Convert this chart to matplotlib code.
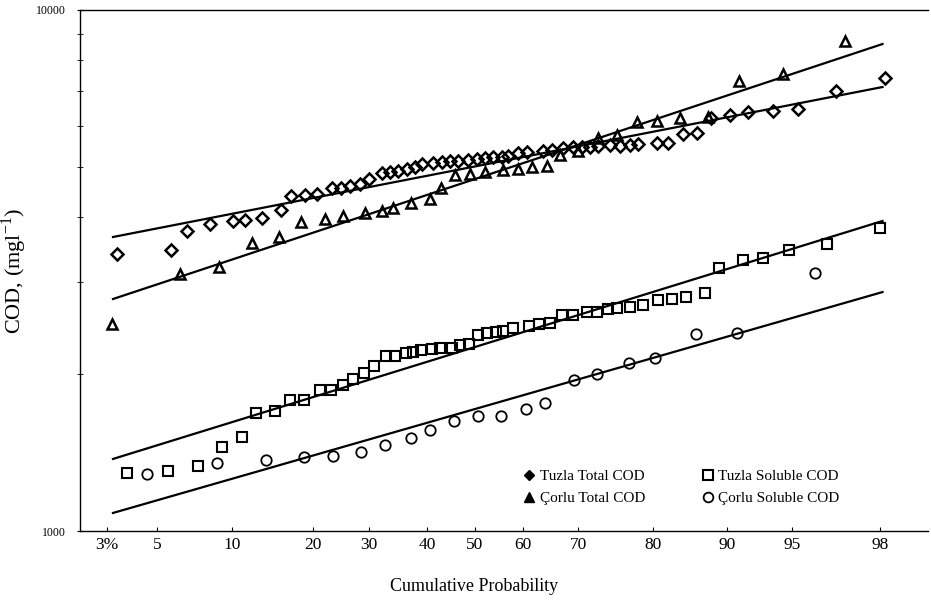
import numpy as np
import matplotlib
matplotlib.use("Agg")
import matplotlib.pyplot as plt
from matplotlib.lines import Line2D

plt.rcParams['font.family'] = ['Liberation Serif', 'DejaVu Serif']

# probability paper: tick percentages and where they sit on the printed axis (pixels)
prob_ticks = [3, 5, 10, 20, 30, 40, 50, 60, 70, 80, 90, 95, 98]
prob_labels = ['3%', '5', '10', '20', '30', '40', '50', '60', '70', '80', '90', '95', '98']
paper_p = [0.5, 2, 3, 5, 10, 20, 30, 40, 50, 60, 70, 80, 90, 95, 98, 99, 99.9]
paper_px = [0, 78, 107, 157, 232, 313, 369, 427, 475, 523, 578, 653, 727, 792, 880, 930, 1000]

# Tuzla total COD
tt_p = [3.4, 5.9, 7.0, 8.5, 10.1, 11.6, 13.7, 16.1, 17.3, 19.0, 20.7, 23.4, 25.0, 26.6,
        28.4, 30.0, 32.2, 33.6, 35.0, 36.6, 37.9, 39.1, 41.2, 43.1, 44.8, 46.5, 48.5,
        50.4, 52.1, 53.7, 55.6, 56.9, 59.0, 60.7, 63.6, 65.3, 67.3, 69.1, 70.5, 71.6,
        72.7, 74.3, 75.6, 76.9, 78.0, 80.5, 82.0, 84.1, 85.9, 87.8, 90.2, 91.6, 93.5,
        95.2, 96.5, 98.1]
tt_cod = [3400, 3460, 3765, 3885, 3936, 3953, 3989, 4133, 4395, 4414, 4434, 4553, 4553,
          4594, 4634, 4738, 4866, 4888, 4909, 4952, 4996, 5062, 5084, 5107, 5130, 5130,
          5152, 5175, 5198, 5222, 5222, 5245, 5314, 5338, 5362, 5386, 5433, 5457, 5457,
          5457, 5482, 5506, 5482, 5506, 5530, 5554, 5554, 5781, 5806, 6203, 6287, 6370,
          6399, 6456, 6990, 7404]

# Corlu total COD
ct_p = [3.2, 6.5, 9.1, 12.5, 15.8, 18.5, 22.1, 25.4, 29.3, 32.2, 34.1, 37.2, 40.6, 42.9,
        45.8, 49.0, 52.1, 55.8, 59.0, 61.6, 64.4, 66.7, 70.0, 72.7, 75.2, 77.9, 80.5,
        83.6, 87.4, 90.9, 94.3, 96.8]
ct_cod = [2496, 3113, 3211, 3571, 3667, 3918, 3971, 4024, 4078, 4114, 4169, 4262, 4338,
          4553, 4824, 4845, 4888, 4931, 4952, 4996, 5018, 5268, 5362, 5679, 5755, 6095,
          6122, 6203, 6231, 7306, 7537, 8720]

# Tuzla soluble COD
ts_p = [3.8, 5.7, 7.7, 9.3, 11.2, 13.0, 15.3, 17.2, 18.9, 21.3, 23.2, 25.4, 27.1, 29.1,
        30.9, 32.9, 34.5, 36.4, 37.6, 39.0, 41.0, 42.7, 45.2, 46.9, 48.7, 50.6, 52.5,
        54.4, 55.8, 57.9, 61.1, 62.9, 64.9, 67.1, 69.1, 71.2, 72.5, 74.0, 75.2, 76.9,
        78.7, 80.7, 82.6, 84.5, 87.0, 88.9, 91.2, 92.8, 94.8, 96.2, 98.0]
ts_cod = [1292, 1304, 1333, 1449, 1515, 1685, 1700, 1784, 1784, 1865, 1865, 1906, 1957,
          2010, 2073, 2167, 2167, 2196, 2206, 2225, 2235, 2245, 2245, 2275, 2285, 2378,
          2399, 2410, 2420, 2452, 2474, 2496, 2507, 2597, 2597, 2632, 2632, 2668, 2679,
          2691, 2715, 2776, 2788, 2812, 2862, 3197, 3313, 3342, 3462, 3555, 3815]

# Corlu soluble COD
cs_p = [4.6, 9.0, 14.2, 18.9, 23.6, 28.6, 32.8, 37.2, 40.6, 45.6, 50.6, 55.4, 60.5, 64.0,
        69.3, 72.5, 76.8, 80.3, 85.8, 90.8, 95.8]
cs_cod = [1286, 1351, 1369, 1387, 1393, 1418, 1463, 1508, 1562, 1626, 1662, 1662, 1714,
          1760, 1949, 2001, 2101, 2148, 2388, 2399, 3127]

# fitted lines (end points)
fit_p = [3.24, 98.05]
tt_fit = [3667, 7115]
ct_fit = [2788, 8604]
ts_fit = [1375, 3936]
cs_fit = [1083, 2875]


def fwd(p):
    return np.interp(p, paper_p, paper_px)


def inv(x):
    return np.interp(x, paper_px, paper_p)


W, H = 931, 616
fig = plt.figure(figsize=(W / 100, H / 100), dpi=100)
L, R, T, B = 80, 928, 10, 531
ax = fig.add_axes([L / W, 1 - B / H, (R - L) / W, (B - T) / H])
ax.set_xscale('function', functions=(fwd, inv))
ax.set_yscale('log')
ax.set_xlim(inv(L), inv(R))
ax.set_ylim(1000, 10000)

mk = dict(linestyle='none', color='black', markerfacecolor='none')
ax.plot(tt_p, tt_cod, marker='D', markersize=6, markeredgewidth=1.8, **mk)
ax.plot(ct_p, ct_cod, marker='^', markersize=7, markeredgewidth=1.8, **mk)
ax.plot(ts_p, ts_cod, marker='s', markersize=7, markeredgewidth=1.5, **mk)
ax.plot(cs_p, cs_cod, marker='o', markersize=7.5, markeredgewidth=1.3, **mk)

for fit in (tt_fit, ct_fit, ts_fit, cs_fit):
    ax.plot(fit_p, fit, color='black', lw=1.6)

ax.spines['right'].set_visible(False)
for s in ('left', 'bottom', 'top'):
    ax.spines[s].set_linewidth(1.0)

ax.set_xticks(prob_ticks)
ax.set_xticklabels(prob_labels, fontsize=12.5)
ax.xaxis.set_minor_locator(matplotlib.ticker.NullLocator())
ax.tick_params(axis='x', direction='in', length=3, pad=4)
ax.set_yticks([1000, 10000])
ax.set_yticklabels(['1000', '10000'], fontsize=8.5)
ax.yaxis.set_minor_locator(matplotlib.ticker.LogLocator(base=10, subs=np.arange(2, 10)))
ax.yaxis.set_minor_formatter(matplotlib.ticker.NullFormatter())
ax.tick_params(axis='y', which='both', direction='inout', length=4, pad=8)

ax.set_ylabel('COD, (mgl$^{\\mathregular{-1}}$)', fontsize=16)
ax.yaxis.set_label_coords(-0.06, 0.5)
ax.set_xlabel('Cumulative Probability', fontsize=13)
ax.xaxis.set_label_coords(0.465, -0.09)

handles = [
    Line2D([], [], marker='D', color='black', linestyle='none', markersize=5.5),
    Line2D([], [], marker='^', color='black', linestyle='none', markersize=7),
    Line2D([], [], marker='s', color='black', markerfacecolor='none', linestyle='none',
           markersize=7, markeredgewidth=1.5),
    Line2D([], [], marker='o', color='black', markerfacecolor='none', linestyle='none',
           markersize=7, markeredgewidth=1.3),
]
labels = ['Tuzla Total COD', 'Çorlu Total COD', 'Tuzla Soluble COD', 'Çorlu Soluble COD']
ax.legend(handles, labels, ncol=2, frameon=False, fontsize=11, loc='upper left',
          bbox_to_anchor=(0.515, 0.13), handlelength=0.8, handletextpad=0.3,
          columnspacing=3.7, labelspacing=0.55, borderaxespad=0)

fig.savefig('out.png', dpi=100)
